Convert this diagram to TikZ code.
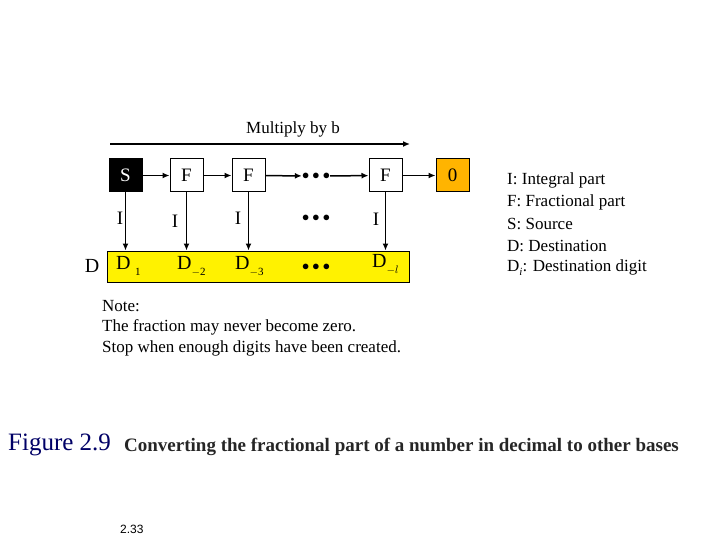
\documentclass[tikz,border=0pt]{standalone}
\usepackage{fontspec}
\usetikzlibrary{arrows.meta}
\setmainfont{Liberation Serif}
\setsansfont{Liberation Sans}
\definecolor{org}{HTML}{FFB400}
\begin{document}
\begin{tikzpicture}[x=1pt,y=-1pt,
  box/.style={draw,line width=1pt,minimum width=33pt,minimum height=33pt,inner sep=0pt,font=\fontsize{19}{19}\selectfont},
  arr/.style={-{Latex[length=7pt,width=6pt]},line width=1.5pt},
  txt/.style={font=\fontsize{17}{17}\selectfont,inner sep=0pt},
  dots/.style={inner sep=0pt,font=\fontsize{14}{14}\selectfont},
  lg/.style={font=\fontsize{17}{17}\selectfont,inner sep=0pt,anchor=west}]
\useasboundingbox (0,0) rectangle (720,540);
\node[box,fill=black,text=white] (s) at (125.5,175.5) {S};
\node[box] (f1) at (186.5,175.5) {F};
\node[box] (f2) at (248.5,175.5) {F};
\node[box] (f3) at (385.5,175.5) {F};
\node[box,fill=org] (z) at (452.5,175.5) {0};
\node[dots] (d1) at (316,176) {$\bullet\bullet\bullet$};
\node[dots] (d2) at (316,218) {$\bullet\bullet\bullet$};
\draw[arr] (s) -- (f1);
\draw[arr] (f1) -- (f2);
\draw[arr] (f2) -- (d1);
\draw[arr] (d1) -- (f3);
\draw[arr] (f3) -- (z);
\node[draw,line width=1pt,fill=yellow,minimum width=302pt,minimum height=31pt,inner sep=0pt] (bar) at (258,266.5) {};
\coordinate (ta) at (110,144); \coordinate (tb) at (410,144);
\draw[arr] (ta) -- (tb);
\node[txt] (mb) at (293,129) {Multiply by b};
\foreach \n in {s,f1,f2,f3} \draw[arr] (\n.south) -- (\n.south |- bar.north);
\node[txt,font=\fontsize{19}{19}\selectfont] (i1) at (120,218) {I};
\node[txt,font=\fontsize{19}{19}\selectfont] (i2) at (175,221) {I};
\node[txt,font=\fontsize{19}{19}\selectfont] (i3) at (238,218) {I};
\node[txt,font=\fontsize{19}{19}\selectfont] (i4) at (376,219) {I};
\node[txt,font=\fontsize{20}{20}\selectfont] (dl) at (92,266) {D};
\node[txt,font=\fontsize{20}{20}\selectfont,anchor=west] (e1) at (116,266) {D\raisebox{-6pt}{\fontsize{11}{11}\selectfont\ \,1}};
\node[txt,font=\fontsize{20}{20}\selectfont,anchor=west] (e2) at (177,266) {D\raisebox{-6pt}{\fontsize{11}{11}\selectfont $-$2}};
\node[txt,font=\fontsize{20}{20}\selectfont,anchor=west] (e3) at (235,266) {D\raisebox{-6pt}{\fontsize{11}{11}\selectfont $-$3}};
\node[dots] (e4) at (316,267) {$\bullet\bullet\bullet$};
\node[txt,font=\fontsize{20}{20}\selectfont,anchor=west] (e5) at (372,264) {D\raisebox{-6pt}{\fontsize{11}{11}\selectfont $-l$}};
\node[lg] (l1) at (507,180) {I: Integral part};
\node[lg] (l2) at (507,202) {F: Fractional part};
\node[lg] (l3) at (507,224) {S: Source};
\node[lg] (l4) at (507,246) {D: Destination};
\node[lg] (l5) at (507,268) {D\raisebox{-4pt}{\fontsize{11}{11}\selectfont\itshape i}: Destination digit};
\node[lg] (n1) at (102,306) {Note:};
\node[lg] (n2) at (102,327) {The fraction may never become zero.};
\node[lg] (n3) at (102,348) {Stop when enough digits have been created.};
\node[lg,font=\fontsize{25}{25}\selectfont,text=blue!40!black] (fig) at (8,445) {Figure 2.9};
\node[lg,font=\fontsize{19}{19}\selectfont\bfseries,text=black!85] (cap) at (124,447) {Converting the fractional part of a number in decimal to other bases};
\node[lg,font=\sffamily\fontsize{12}{12}\selectfont] (pg) at (120,529) {2.33};
\end{tikzpicture}
\end{document}
